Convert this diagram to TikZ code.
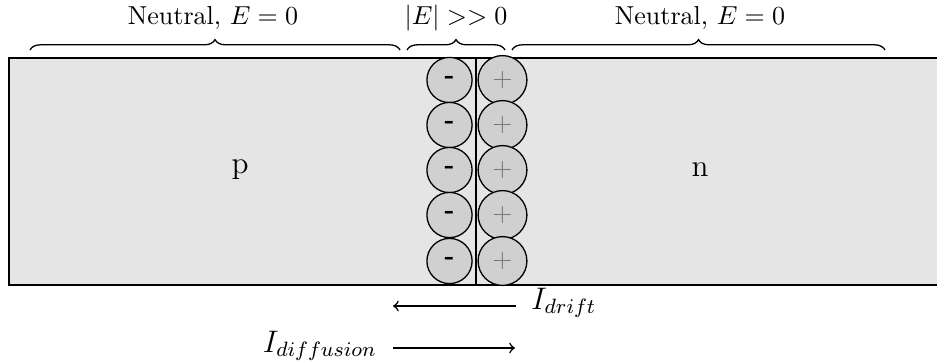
\documentclass[tikz,border=0pt]{standalone}
\usetikzlibrary{decorations.pathreplacing}
\definecolor{bandgray}{HTML}{E5E5E5}
\definecolor{iongray}{HTML}{D0D0D0}
\definecolor{plusgray}{HTML}{7A7A7A}
\tikzset{
  ion/.style={circle, draw=black, fill=iongray, inner sep=0pt, line width=0.5pt},
  negion/.style={ion, minimum size=17.4pt},
  posion/.style={ion, minimum size=18.8pt, text=plusgray},
  region/.style={decorate, decoration={brace, amplitude=4pt}, line width=0.5pt},
  flow/.style={->, line width=0.6pt},
  toplabel/.style={font=\normalsize},
}
\begin{document}
\begin{tikzpicture}[x=0.385pt,y=-0.385pt]
\useasboundingbox (0,0) rectangle (937,362);
\begin{scope}
\clip (0,0) rectangle (937,362);
\node[draw=black, fill=bandgray, line width=0.9pt, minimum width=960*0.385pt, minimum height=227*0.385pt, inner sep=0pt, anchor=north west] (bar) at (7.5,57) {};
\end{scope}
\draw[line width=0.9pt] (476,57) coordinate (jt) -- (476,284) coordinate (jb);
\foreach \i/\y in {1/80,2/125,3/170,4/215,5/261}{
  \node[negion] (m\i) at (449.5,\y) {\textbf{-}};
  \node[posion] (q\i) at (502.5,\y) {+};
}
\node (p) at (240,170) {\large p};
\node (n) at (700,170) {\large n};
% braces
\draw[region] (30,50) coordinate (b1s) -- (400,50) coordinate (b1e);
\draw[region] (407,50) coordinate (b2s) -- (505,50) coordinate (b2e);
\draw[region] (512,50) coordinate (b3s) -- (885,50) coordinate (b3e);
\node[toplabel] (l1) at (213,18) {Neutral, $E=0$};
\node[toplabel] (l2) at (456,18) {$|E|>>0$};
\node[toplabel] (l3) at (700,18) {Neutral, $E=0$};
% currents
\coordinate (d1) at (516,306);
\coordinate (d2) at (393,306);
\draw[flow] (d1) -- (d2);
\node[anchor=west, font=\large] (idrift) at (522,303) {$I_{drift}$};
\coordinate (f1) at (393,348);
\coordinate (f2) at (515,348);
\draw[flow] (f1) -- (f2);
\node[anchor=east, font=\large] (idiff) at (386,346) {$I_{diffusion}$};
\end{tikzpicture}
\end{document}
